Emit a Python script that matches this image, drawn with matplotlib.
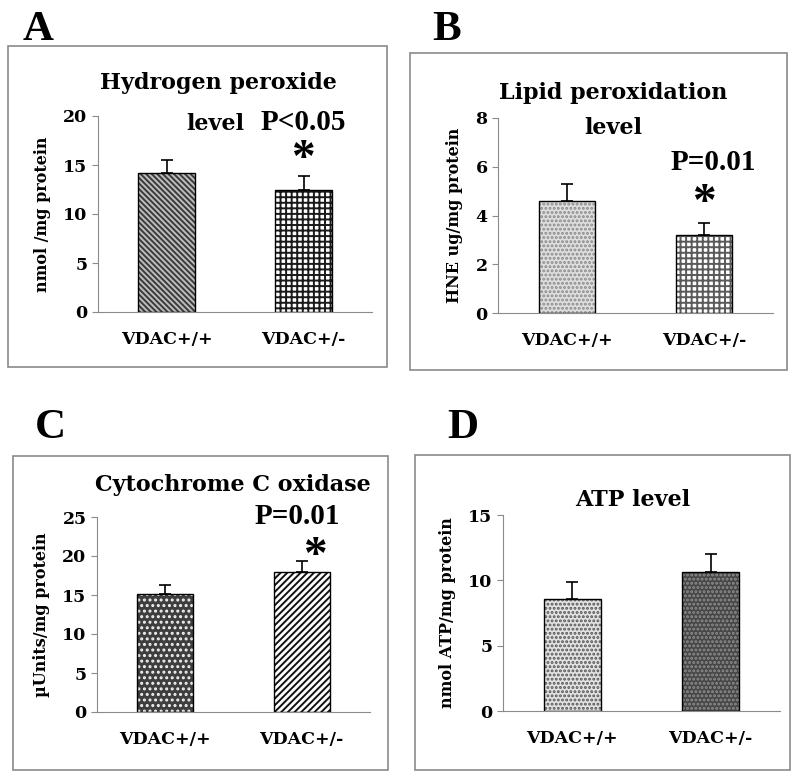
import matplotlib
matplotlib.use("Agg")
import matplotlib.pyplot as plt
from matplotlib.patches import Rectangle

groups = ["VDAC+/+", "VDAC+/-"]

h2o2 = [14.2, 12.5]
h2o2_err = [1.3, 1.4]
hne = [4.6, 3.2]
hne_err = [0.7, 0.5]
cox = [15.1, 18.0]
cox_err = [1.2, 1.4]
atp = [8.6, 10.6]
atp_err = [1.3, 1.4]

SERIF = ["DejaVu Serif"]
TIMES = ["Liberation Serif"]
GREY = "#8a8a8a"

fig = plt.figure(figsize=(8, 7.8), dpi=100)
W, H = 800, 780


def frame(x0, y0, x1, y1):
    fig.patches.append(Rectangle((x0 / W, 1 - y1 / H), (x1 - x0) / W, (y1 - y0) / H,
                                 transform=fig.transFigure, fill=False, ec=GREY, lw=1.2))


def ftext(x, y, s, fs, fam=SERIF, **kw):
    fig.text(x / W, 1 - y / H, s, ha="center", va="center", fontsize=fs,
             family=fam, fontweight="bold", **kw)


def panel(rect, vals, errs, ymax, step, ylabel, styles):
    ax = fig.add_axes(rect)
    x = range(len(vals))
    for i, (fc, hc, hatch) in enumerate(styles):
        ax.bar(i, vals[i], width=0.41, color=fc, edgecolor=hc, hatch=hatch, lw=0, zorder=2)
    ax.bar(x, vals, width=0.41, fill=False, edgecolor="black", lw=1.0, zorder=3)
    ax.errorbar(x, vals, yerr=[[0] * len(vals), errs], fmt="none", ecolor="black",
                elinewidth=1.2, capsize=4, capthick=1.2, zorder=4)
    ax.set_xlim(-0.5, 1.5)
    ax.set_ylim(0, ymax)
    ax.set_yticks(range(0, ymax + 1, step))
    ax.set_xticks(list(x))
    ax.set_xticklabels(groups, family=SERIF, fontweight="bold", fontsize=12.5)
    ax.tick_params(axis="x", length=0, pad=14)
    for s in ("top", "right"):
        ax.spines[s].set_visible(False)
    for s in ("left", "bottom"):
        ax.spines[s].set_color(GREY)
    ax.tick_params(axis="y", colors=GREY, length=4, labelcolor="black", labelsize=12.5)
    for t in ax.get_yticklabels():
        t.set_family(SERIF)
        t.set_fontweight("bold")
    ax.set_ylabel(ylabel, family=SERIF, fontweight="bold", fontsize=11.5, labelpad=9)
    ax.patch.set_alpha(0)
    return ax


plt.rcParams["hatch.linewidth"] = 1.4

# A
frame(8, 46, 387, 367)
panel([98 / W, 1 - 312 / H, 274 / W, 196 / H], h2o2, h2o2_err, 20, 5,
      "nmol /mg protein",
      [("#bdbdbd", "#3a3a3a", "\\\\\\\\\\\\"), ("white", "#1a1a1a", "+++")])
# B
frame(410, 53, 787, 370)
panel([498 / W, 1 - 313 / H, 275 / W, 195 / H], hne, hne_err, 8, 2,
      "HNE ug/mg protein",
      [("#dedede", "#8a8a8a", "...."), ("white", "#5a5a5a", "+++")])
# C
frame(13, 456, 388, 770)
panel([97 / W, 1 - 712 / H, 273 / W, 195 / H], cox, cox_err, 25, 5,
      "µUnits/mg protein",
      [("#3e3e3e", "#f2f2f2", "..."), ("white", "#111111", "/////")])
# D
frame(415, 455, 790, 770)
panel([503 / W, 1 - 711 / H, 277 / W, 196 / H], atp, atp_err, 15, 5,
      "nmol ATP/mg protein",
      [("#e2e2e2", "#555555", "...."), ("#474747", "#8e8e8e", "....")])

# panel letters
ftext(38, 30, "A", 31, TIMES)
ftext(447, 30, "B", 31, TIMES)
ftext(50, 428, "C", 31, TIMES)
ftext(463, 428, "D", 31, TIMES)

# titles and significance marks
ftext(218, 83, "Hydrogen peroxide", 16)
ftext(215, 124, "level", 16)
ftext(303, 122, "P<0.05", 21, TIMES)
ftext(303, 160, "*", 34, TIMES)

ftext(613, 93, "Lipid peroxidation", 16)
ftext(613, 128, "level", 16)
ftext(713, 163, "P=0.01", 21, TIMES)
ftext(704, 204, "*", 34, TIMES)

ftext(233, 485, "Cytochrome C oxidase", 16)
ftext(297, 517, "P=0.01", 21, TIMES)
ftext(315, 557, "*", 34, TIMES)

ftext(633, 500, "ATP level", 16)

fig.savefig("out.png", dpi=100)
